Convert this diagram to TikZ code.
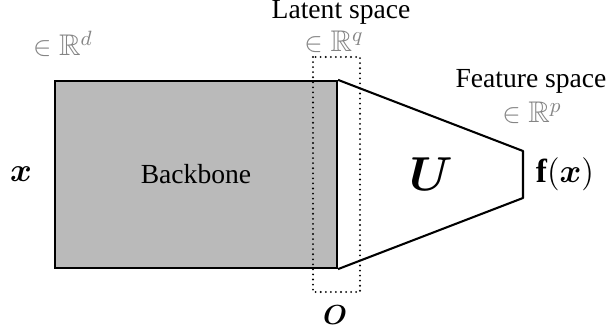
\documentclass[tikz,border=0pt]{standalone}
\usepackage{amsmath,amssymb,bm}
\usepackage{fontspec}
\setmainfont{Liberation Serif}
\definecolor{bbgray}{HTML}{BABABA}
\definecolor{dimgray}{HTML}{858585}
\begin{document}
\begin{tikzpicture}[x=0.435pt, y=-0.435pt,
    every node/.style={font=\fontsize{12}{14}\selectfont, inner sep=0pt},
    dimlabel/.style={text=dimgray, font=\fontsize{13}{15}\selectfont},
    mathlabel/.style={font=\fontsize{14.5}{17}\selectfont},
    edge/.style={line width=0.9pt},
    latentbox/.style={line width=0.9pt, dash pattern=on 0pt off 2.2pt, line cap=round}]
    \useasboundingbox (0,0) rectangle (610,330);
    % Backbone block
        \node[edge, draw, fill=bbgray, minimum width=122.7pt, minimum height=81.4pt] (bb) at (196,174.5) {Backbone};
        \node[mathlabel] (in) at (21,174) {$\boldsymbol{x}$};
        \node[dimlabel] (indim) at (63,44) {$\in\mathbb{R}^d$};
    % Projection head
        \coordinate (ftop) at (523,151);
        \coordinate (fbot) at (523,198);
        \draw[edge, line join=round] (bb.north east) -- (ftop) -- (fbot) -- (bb.south east);
        \node (u) at (431,174) {\fontsize{22}{26}\selectfont$\boldsymbol{U}$};
        \node[mathlabel] (out) at (565,174) {$\mathbf{f}(\boldsymbol{x})$};
        \node[anchor=base] (feat) at (531,88) {Feature space};
        \node[dimlabel] (featdim) at (532,113) {$\in\mathbb{R}^p$};
    % Latent space
        \draw[latentbox] (313,57) rectangle (360,292);
        \node[anchor=base, text height=8pt, text depth=1.5pt] (lat) at (341,19) {Latent space};
        \node[dimlabel] (latdim) at (334,42) {$\in\mathbb{R}^q$};
        \node[font=\fontsize{13}{15}\selectfont] (o) at (335,315) {$\boldsymbol{O}$};
\end{tikzpicture}
\end{document}
